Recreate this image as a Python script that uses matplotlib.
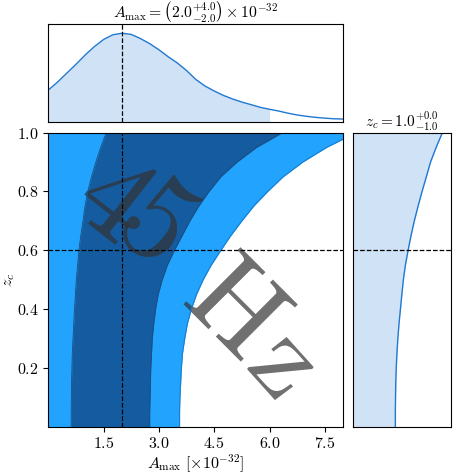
import numpy as np
import matplotlib
matplotlib.use("Agg")
import matplotlib.pyplot as plt
from matplotlib.textpath import TextPath
from matplotlib.patches import PathPatch
from matplotlib.font_manager import FontProperties
from matplotlib.transforms import Affine2D, ScaledTranslation

plt.rcParams['font.family'] = 'serif'
plt.rcParams['font.serif'] = ['cmr10', 'DejaVu Serif']
plt.rcParams['mathtext.fontset'] = 'cm'
plt.rcParams['axes.unicode_minus'] = False

# marginal of A_max (units of 1e-32), normalised to peak
amp_grid = np.arange(0, 8.01, 0.25)
amp_density = [0.36, 0.45, 0.55, 0.65, 0.755, 0.85, 0.93, 0.983, 1.0, 0.987,
               0.94, 0.883, 0.814, 0.736, 0.665, 0.58, 0.48, 0.406, 0.35, 0.30,
               0.26, 0.225, 0.196, 0.166, 0.144, 0.124, 0.10, 0.08, 0.065, 0.053,
               0.044, 0.037, 0.034]

# marginal of z_c
zc_grid = np.arange(0, 1.001, 0.05)
zc_density = [0.472, 0.472, 0.474, 0.477, 0.482, 0.490, 0.500, 0.513, 0.529, 0.545,
              0.562, 0.585, 0.615, 0.648, 0.685, 0.727, 0.772, 0.820, 0.867, 0.930, 1.0]

# 2D credible region boundaries (A_max at each z_c)
sig1_left = [0.62, 0.62, 0.625, 0.63, 0.64, 0.65, 0.67, 0.69, 0.71, 0.735, 0.76,
             0.795, 0.83, 0.88, 0.94, 0.995, 1.07, 1.17, 1.29, 1.42, 1.57]
sig1_right = [2.75, 2.75, 2.76, 2.77, 2.78, 2.80, 2.82, 2.86, 2.91, 2.98, 3.09,
              3.23, 3.42, 3.63, 3.84, 4.08, 4.36, 4.68, 5.12, 5.65, 6.35]
sig2_right = [3.56, 3.56, 3.57, 3.59, 3.61, 3.64, 3.70, 3.77, 3.88, 4.02, 4.20,
              4.42, 4.68, 4.95, 5.25, 5.57, 5.95, 6.37, 6.90, 7.55, 8.35]

best_amp = 2.0
best_zc = 0.6
amp_hi = 6.0

xticks = [1.5, 3.0, 4.5, 6.0, 7.5]
yticks = [0.2, 0.4, 0.6, 0.8, 1.0]

light = '#22a4fe'
dark = '#155b9f'
line_col = '#1f78d1'
fill_col = '#d0e2f5'

fig = plt.figure(figsize=(4.75, 4.75), dpi=100)
ax = fig.add_axes([0.1017, 0.1017, 0.621, 0.619])
ax_top = fig.add_axes([0.1017, 0.743, 0.621, 0.2057])
ax_right = fig.add_axes([0.7438, 0.1017, 0.2063, 0.619])

# main 2D panel
ax.fill_betweenx(zc_grid, 0, sig2_right, color=light, lw=0)
ax.fill_betweenx(zc_grid, sig1_left, sig1_right, color=dark, lw=0)
ax.plot(sig2_right, zc_grid, color='#1a7fd0', lw=0.8)
ax.plot(sig1_left, zc_grid, color='#1d4d7c', lw=0.6)
ax.plot(sig1_right, zc_grid, color='#1d4d7c', lw=0.6)
ax.axvline(best_amp, color='k', ls='--', lw=0.9)
ax.axhline(best_zc, color='k', ls='--', lw=0.9)
ax.set_xlim(0, 8)
ax.set_ylim(0, 1)
ax.set_xticks(xticks, labels=[f'${t}$' for t in xticks], fontsize=11.5)
ax.set_yticks(yticks, labels=[f'${t}$' for t in yticks], fontsize=11.5)
ax.set_xlabel(r'$A_{\rm max}\ [\times 10^{-32}]$', fontsize=11.5, labelpad=1)
ax.set_ylabel(r'$z_c$', fontsize=11.5)
ax.yaxis.set_label_coords(-0.105, 0.5)

# "45 Hz" label, each glyph centred on its spot (axes fraction)
chars = ['4', '5', 'H', 'z']
char_pos = [(0.240, 0.788), (0.381, 0.705), (0.652, 0.416), (0.787, 0.199)]
char_rot = [-38, -40, -45, -48]
char_size = [90, 90, 85, 85]
cm_font = FontProperties(family='cmr10')
for c, (px, py), r, s in zip(chars, char_pos, char_rot, char_size):
    tp = TextPath((0, 0), c, size=s, prop=cm_font)
    ext = tp.get_extents()
    cx, cy = (ext.x0 + ext.x1) / 2, (ext.y0 + ext.y1) / 2
    tr = (Affine2D().translate(-cx, -cy).rotate_deg(r).scale(fig.dpi / 72)
          + ScaledTranslation(px, py, ax.transAxes))
    ax.add_patch(PathPatch(tp, transform=tr, facecolor='#333333', edgecolor='none',
                           alpha=0.7, clip_on=True))

# top marginal
amp_density = np.array(amp_density)
ax_top.plot(amp_grid, amp_density, color=line_col, lw=1)
ax_top.fill_between(amp_grid, 0, amp_density, where=amp_grid <= amp_hi,
                    color=fill_col, lw=0)
ax_top.axvline(best_amp, color='k', ls='--', lw=0.9)
ax_top.set_xlim(0, 8)
ax_top.set_ylim(0, 1.1)
ax_top.set_xticks([])
ax_top.set_yticks([])
ax_top.set_title(r'$A_{\rm max}=\left(2.0^{+4.0}_{-2.0}\right)\times10^{-32}$',
                 fontsize=11.3, pad=3)

# right marginal
ax_right.plot(zc_density, zc_grid, color=line_col, lw=1)
ax_right.fill_betweenx(zc_grid, 0, zc_density, color=fill_col, lw=0)
ax_right.axhline(best_zc, color='k', ls='--', lw=0.9)
ax_right.set_xlim(0, 1.1)
ax_right.set_ylim(0, 1)
ax_right.set_xticks([])
ax_right.set_yticks([])
ax_right.set_title(r'$z_c=1.0^{+0.0}_{-1.0}$', fontsize=11, pad=3)

fig.savefig('out.png', dpi=100)
